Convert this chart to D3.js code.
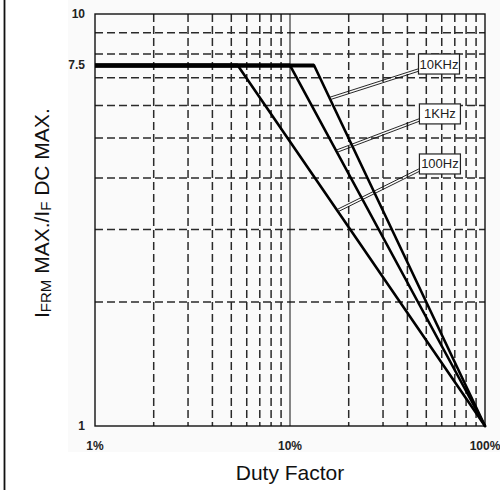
<!DOCTYPE html>
<html>
<head>
<meta charset="utf-8">
<script src="https://cdn.jsdelivr.net/npm/d3@7"></script>
<style>
  body { margin: 0; background: #fff; }
  svg { display: block; }
  .tick-label { font-family: "Liberation Sans Narrow", "Arial Narrow", "Liberation Sans", sans-serif; font-weight: bold; font-size: 12px; fill: #222; }
  .axis-title { font-family: "Liberation Sans", Arial, sans-serif; font-size: 21px; fill: #111; }
  .freq-label { font-family: "Liberation Sans Narrow", "Arial Narrow", "Liberation Sans", sans-serif; font-size: 13px; fill: #222; }
</style>
</head>
<body>
<svg id="chart" width="500" height="490"></svg>
<script>
// curves: flat at 7.5 until the knee, then straight (log-log) down to 100% / 1
const frequencies = ['10KHz', '1KHz', '100Hz']
const kneeDuty = [13.3, 10, 5.4]
const plateauRatio = 7.5
const startDuty = 1
const endDuty = 100
const endRatio = 1
// duty factor where each label leader touches its curve
const leaderDuty = [16.0, 17.3, 17.5]

const xTickValues = [1, 10, 100]
const xTickLabels = ['1%', '10%', '100%']
const yTickValues = [1, 7.5, 10]
const yTickLabels = ['1', '7.5', '10']
const xGridValues = [2, 3, 4, 5, 6, 7, 8, 9, 20, 30, 40, 50, 60, 70, 80, 90]
const yGridValues = [2, 3, 4, 5, 6, 7, 8, 9]

const svg = d3.select('#chart')
const plot = { left: 95, right: 485, top: 14, bottom: 426 }

const x = d3.scaleLog().domain([1, 100]).range([plot.left, plot.right])
const y = d3.scaleLog().domain([1, 10]).range([plot.bottom, plot.top])

/**
 * Ratio on a curve for a given duty factor (linear in log-log space).
 *
 * @param {number} knee The duty factor where the curve leaves the plateau
 * @param {number} duty The duty factor
 * @returns {number} The ratio
 */
function ratioAt (knee, duty) {
  if (duty <= knee) return plateauRatio
  const t = (Math.log(duty) - Math.log(knee)) / (Math.log(endDuty) - Math.log(knee))
  return Math.exp(Math.log(plateauRatio) + t * (Math.log(endRatio) - Math.log(plateauRatio)))
}

/**
 * Draws the page frame and the dashed grid.
 */
function drawBackground () {
  svg.append('rect')
    .attr('x', 68).attr('y', 0).attr('width', 432).attr('height', 452)
    .attr('fill', '#fafafa')

  svg.append('line')
    .attr('x1', 4.5).attr('x2', 4.5).attr('y1', 0).attr('y2', 490)
    .attr('stroke', '#111').attr('stroke-width', 1.8)

  const g = svg.append('g').attr('class', 'grid')

  g.selectAll('.vgrid')
    .data(xGridValues)
    .join('line')
    .attr('class', 'vgrid')
    .attr('x1', d => x(d)).attr('x2', d => x(d))
    .attr('y1', plot.top).attr('y2', plot.bottom)
    .attr('stroke', '#2a2a2a').attr('stroke-width', 1.5)
    .attr('stroke-dasharray', '8,4')

  g.selectAll('.hgrid')
    .data(yGridValues)
    .join('line')
    .attr('class', 'hgrid')
    .attr('x1', plot.left).attr('x2', plot.right)
    .attr('y1', d => y(d)).attr('y2', d => y(d))
    .attr('stroke', '#2a2a2a').attr('stroke-width', 1.5)
    .attr('stroke-dasharray', '8,4')

  // solid line at 10%
  g.append('line')
    .attr('x1', x(10)).attr('x2', x(10))
    .attr('y1', plot.top).attr('y2', plot.bottom)
    .attr('stroke', '#111').attr('stroke-width', 1)

  g.append('rect')
    .attr('x', plot.left).attr('y', plot.top)
    .attr('width', plot.right - plot.left).attr('height', plot.bottom - plot.top)
    .attr('fill', 'none').attr('stroke', '#111').attr('stroke-width', 1.4)
}

/**
 * Draws the three derating curves.
 */
function drawCurves () {
  const g = svg.append('g').attr('class', 'curves')

  kneeDuty.forEach((knee) => {
    g.append('line')
      .attr('x1', x(startDuty)).attr('x2', x(knee))
      .attr('y1', y(plateauRatio)).attr('y2', y(plateauRatio))
      .attr('stroke', '#000').attr('stroke-width', 4)

    g.append('line')
      .attr('x1', x(knee)).attr('x2', x(endDuty))
      .attr('y1', y(plateauRatio)).attr('y2', y(endRatio))
      .attr('stroke', '#000').attr('stroke-width', 2.6)
      .attr('stroke-linecap', 'round')
  })
}

/**
 * Draws the boxed frequency labels and their double leader lines.
 */
function drawLabels () {
  // bottom-left corner of each label box, in data units
  const boxAt = [[45.6, 7.15], [46.1, 5.41], [46.1, 4.09]]
  const boxW = 41
  const boxH = 20
  const g = svg.append('g').attr('class', 'labels')

  frequencies.forEach((name, i) => {
    const bx = x(boxAt[i][0])
    const by = y(boxAt[i][1])
    const sx = x(leaderDuty[i])
    const sy = y(ratioAt(kneeDuty[i], leaderDuty[i]))
    const ex = bx
    const ey = by - 4
    const len = Math.hypot(ex - sx, ey - sy)
    const nx = -(ey - sy) / len * 1.2
    const ny = (ex - sx) / len * 1.2

    for (const s of [-1, 1]) {
      g.append('line')
        .attr('x1', sx + s * nx).attr('y1', sy + s * ny)
        .attr('x2', ex + s * nx).attr('y2', ey + s * ny)
        .attr('stroke', '#111').attr('stroke-width', 0.9)
    }

    g.append('rect')
      .attr('x', bx).attr('y', by - boxH)
      .attr('width', boxW).attr('height', boxH)
      .attr('fill', '#fff').attr('stroke', '#222').attr('stroke-width', 1.2)

    g.append('text')
      .attr('class', 'freq-label')
      .attr('x', bx + boxW / 2).attr('y', by - boxH / 2)
      .attr('text-anchor', 'middle').attr('dominant-baseline', 'central')
      .text(name)
  })
}

/**
 * Draws tick labels and axis titles.
 */
function drawAxes () {
  svg.selectAll('.xtick')
    .data(xTickValues)
    .join('text')
    .attr('class', 'tick-label xtick')
    .attr('x', d => x(d)).attr('y', 446)
    .attr('text-anchor', 'middle').attr('dominant-baseline', 'central')
    .text((d, i) => xTickLabels[i])

  svg.selectAll('.ytick')
    .data(yTickValues)
    .join('text')
    .attr('class', 'tick-label ytick')
    .attr('x', 85).attr('y', d => y(d))
    .attr('text-anchor', 'end').attr('dominant-baseline', 'central')
    .text((d, i) => yTickLabels[i])

  svg.append('text')
    .attr('class', 'axis-title')
    .attr('x', (plot.left + plot.right) / 2).attr('y', 480)
    .attr('text-anchor', 'middle')
    .text('Duty Factor')

  const yt = svg.append('text')
    .attr('class', 'axis-title')
    .attr('font-size', 22)
    .attr('transform', 'translate(49,318) rotate(-90)')
  yt.append('tspan').text('I')
  yt.append('tspan').attr('font-size', 15).attr('dy', 2).text('FRM')
  yt.append('tspan').attr('dy', -2).text(' MAX./I')
  yt.append('tspan').attr('font-size', 15).attr('dy', 2).text('F')
  yt.append('tspan').attr('dy', -2).text(' DC MAX.')
}

drawBackground()
drawCurves()
drawLabels()
drawAxes()
</script>
</body>
</html>
